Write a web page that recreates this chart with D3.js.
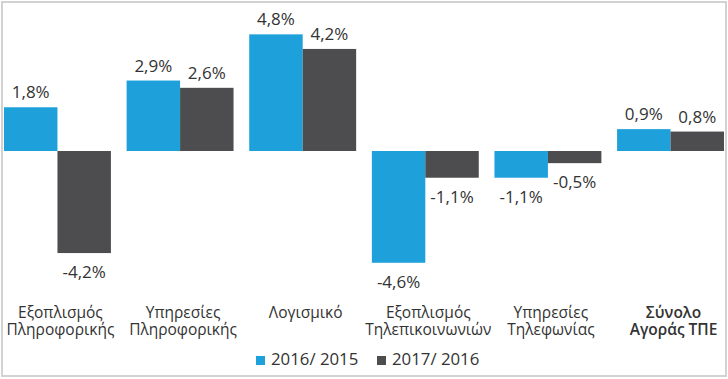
<!DOCTYPE html>
<html>
<head>
<meta charset="utf-8">
<script src="https://cdn.jsdelivr.net/npm/d3@7"></script>
<style>
  html, body { margin: 0; padding: 0; background: #fff; }
  svg { display: block; }
  text { font-family: "Open Sans", "Noto Sans", sans-serif; fill: #333; }
</style>
</head>
<body>
<svg id="chart" width="728" height="379"></svg>
<script>
const categories = [
  ["Εξοπλισμός", "Πληροφορικής"],
  ["Υπηρεσίες", "Πληροφορικής"],
  ["Λογισμικό"],
  ["Εξοπλισμός", "Τηλεπικοινωνιών"],
  ["Υπηρεσίες", "Τηλεφωνίας"],
  ["Σύνολο", "Αγοράς ΤΠΕ"]
];
const seriesNames = ["2016/ 2015", "2017/ 2016"];
const values2016 = [1.8, 2.9, 4.8, -4.6, -1.1, 0.9];
const values2017 = [-4.2, 2.6, 4.2, -1.1, -0.5, 0.8];
const seriesColors = ["#1ea1db", "#4d4d4f"];
const boldCategory = 5;

const W = 728, H = 379;
const svg = d3.select("#chart");

// border
svg.append("rect")
  .attr("x", 2).attr("y", 2).attr("width", W - 4).attr("height", H - 5)
  .attr("fill", "none").attr("stroke", "#d2d2d2").attr("stroke-width", 2);

const catIdx = d3.range(categories.length);
const x0 = d3.scaleBand().domain(catIdx).range([4, 724]).paddingInner(0.128).paddingOuter(0);
const x1 = d3.scaleBand().domain([0, 1]).range([0, x0.bandwidth()]).padding(0);
const y = d3.scaleLinear().domain([-5, 5]).range([272.5, 29.5]);

const series = [values2016, values2017];
const fmt = v => d3.format(".1f")(v).replace(".", ",").replace("−", "-") + "%";

const g = svg.append("g");
series.forEach((vals, si) => {
  const grp = g.append("g");
  grp.selectAll("rect").data(vals).join("rect")
    .attr("x", (d, i) => x0(i) + x1(si))
    .attr("width", x1.bandwidth())
    .attr("y", d => y(Math.max(0, d)))
    .attr("height", d => Math.abs(y(d) - y(0)))
    .attr("fill", seriesColors[si]);
  grp.selectAll("text").data(vals).join("text")
    .attr("x", (d, i) => x0(i) + x1(si) + x1.bandwidth() / 2)
    .attr("y", d => d >= 0 ? y(d) - 9 : y(d) + 25)
    .attr("text-anchor", "middle")
    .style("font-size", "17px")
    .text(d => fmt(d));
});

// category labels
const cl = svg.append("g");
categories.forEach((lines, i) => {
  const cx = x0(i) + x0.bandwidth() / 2 + 3;
  const t = cl.append("text")
    .attr("x", cx)
    .attr("y", 318)
    .attr("text-anchor", "middle")
    .style("font-size", "15.5px")
    .style("font-weight", i === boldCategory ? 600 : 400);
  lines.forEach((ln, j) => {
    t.append("tspan").attr("x", cx).attr("dy", j === 0 ? 0 : 17).text(ln);
  });
});

// legend
const legendX = [256, 377];
seriesNames.forEach((n, si) => {
  svg.append("rect").attr("x", legendX[si]).attr("y", 356).attr("width", 9).attr("height", 9)
    .attr("fill", seriesColors[si]);
  svg.append("text").attr("x", legendX[si] + 15).attr("y", 365)
    .style("font-size", "16.8px").text(n);
});
</script>
</body>
</html>
